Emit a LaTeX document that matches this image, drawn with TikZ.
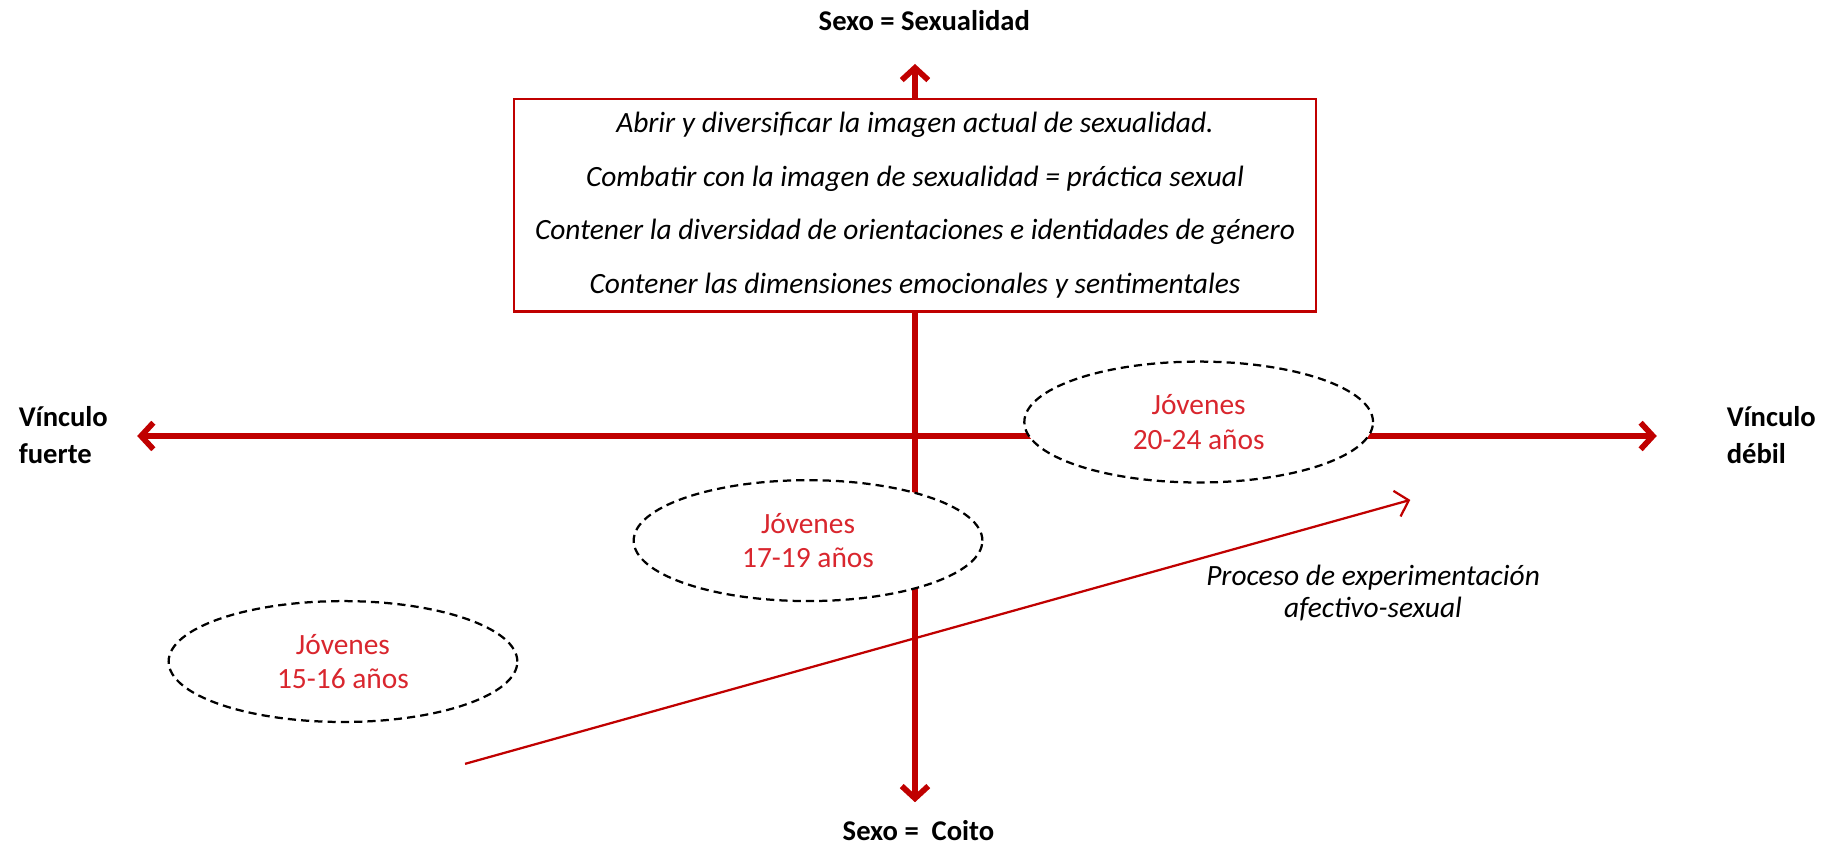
\documentclass[tikz,border=0pt]{standalone}
\usepackage{fontspec}
\setmainfont{Carlito}
\usepackage{tikz}
\usetikzlibrary{arrows.meta,shapes.geometric}
\definecolor{ejerojo}{HTML}{C00000}
\definecolor{edadrojo}{HTML}{D9262E}

\tikzset{
	eje/.style={ejerojo,line width=2.8pt,-{Straight Barb[length=6pt,width=13pt]}},
	caja/.style={draw=ejerojo,line width=1.1pt,fill=white,minimum width=13.8cm,minimum height=3.66cm,align=center,font=\fontsize{14.4}{17.5}\selectfont\itshape},
	grupo/.style={ellipse,draw=black,dashed,dash pattern=on 4pt off 2.5pt,line width=1.1pt,fill=white,text=edadrojo,minimum width=6cm,minimum height=2.08cm,align=center,font=\fontsize{14.4}{17}\selectfont},
	polo/.style={font=\fontsize{14}{18}\selectfont\bfseries,align=left},
	proceso/.style={ejerojo,line width=1.1pt,-{Straight Barb[length=6pt,width=13pt]}},
}

\begin{document}
\begin{tikzpicture}[x=0.02cm,y=-0.02cm]
		\useasboundingbox (0,0) rectangle (1568,727);
		% ejes
		\coordinate (centro) at (787,375);
		\coordinate (arriba) at (787,55);
		\coordinate (abajo) at (787,690);
		\coordinate (izq) at (118,375);
		\coordinate (der) at (1425,375);
		\draw[eje] (centro) -- (arriba);
		\draw[eje] (centro) -- (abajo);
		\draw[eje] (centro) -- (izq);
		\draw[eje] (centro) -- (der);
		% objetivos
		\node[caja] (objetivos) at (787,176.5) {Abrir y diversificar la imagen actual de sexualidad.\\[8.7pt]
			Combatir con la imagen de sexualidad = práctica sexual\\[8.7pt]
			Contener la diversidad de orientaciones e identidades de género\\[8.7pt]
			Contener las dimensiones emocionales y sentimentales};
		% grupos de edad
		\node[grupo] (j2024) at (1031,363) {Jóvenes\\20-24 años};
		\node[grupo] (j1719) at (695,465) {Jóvenes\\17-19 años};
		\node[grupo] (j1516) at (295,569) {Jóvenes\\15-16 años};
		% proceso
		\coordinate (inicio) at (400,657);
		\coordinate (fin) at (1213,430);
		\draw[proceso] (inicio) -- (fin);
		\node[font=\fontsize{14.4}{16}\selectfont\itshape,align=center] (proc) at (1181,510) {Proceso de experimentación\\afectivo-sexual};
		% polos
		\node[polo] (sexualidad) at (795,18) {Sexo = Sexualidad};
		\node[polo] (coito) at (790,714) {Sexo =~ Coito};
		\node[polo,anchor=west] (fuerte) at (10,374) {Vínculo\\fuerte};
		\node[polo,anchor=west] (debil) at (1479,374) {Vínculo\\débil};
	\end{tikzpicture}
\end{document}
